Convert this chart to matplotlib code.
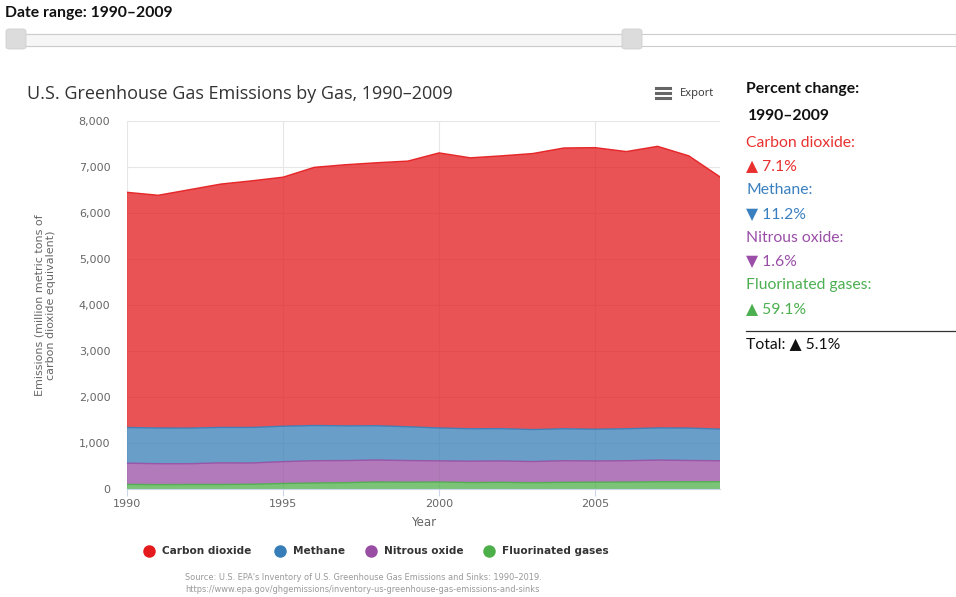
import numpy as np
import matplotlib.pyplot as plt
from matplotlib.patches import FancyBboxPatch, Rectangle
from matplotlib.lines import Line2D

# U.S. greenhouse gas emissions, million metric tons CO2 equivalent
years = np.arange(1990, 2010)
co2 = [5113, 5060, 5183, 5291, 5362, 5414, 5613, 5677, 5718, 5776,
       5980, 5890, 5931, 6001, 6104, 6121, 6026, 6122, 5918, 5484]
methane = [775, 776, 774, 770, 772, 770, 765, 755, 745, 735,
           715, 705, 702, 695, 695, 690, 695, 700, 705, 688]
nitrous = [462, 455, 452, 470, 462, 475, 485, 480, 478, 470,
           460, 465, 465, 460, 470, 462, 465, 470, 462, 455]
fgases = [100, 95, 98, 98, 104, 120, 130, 138, 152, 148,
          152, 140, 145, 137, 145, 148, 150, 158, 158, 159]

gas_names = ['Carbon dioxide', 'Methane', 'Nitrous oxide', 'Fluorinated gases']
gas_colors = ['#e41a1c', '#377eb8', '#984ea3', '#4daf4a']
pct_labels = ['▲ 7.1%', '▼ 11.2%', '▼ 1.6%', '▲ 59.1%']
total_label = 'Total: ▲ 5.1%'

W, H = 956, 597
fig = plt.figure(figsize=(W / 100, H / 100), dpi=100)
fig.patch.set_facecolor('white')

SANS = ['Lato', 'DejaVu Sans']
CHART = ['DejaVu Sans']


def fx(x):
    return x / W


def fy(y):
    return 1 - y / H


def ftext(x, y, s, **kw):
    kw.setdefault('va', 'center')
    kw.setdefault('ha', 'left')
    fig.text(fx(x), fy(y), s, **kw)


# date range slider on top
ftext(5, 13, 'Date range: 1990–2009', fontsize=11.3, fontweight='bold',
      color='#111111', family=SANS)
fig.patches.append(Rectangle((fx(16), fy(46)), fx(940), 12 / H,
                             transform=fig.transFigure, facecolor='white',
                             edgecolor='#cccccc', lw=0.8))
fig.patches.append(Rectangle((fx(16), fy(46)), fx(616), 12 / H,
                             transform=fig.transFigure, facecolor='#f6f6f6',
                             edgecolor='#cccccc', lw=0.8))
for hx in (5, 621):
    fig.patches.append(FancyBboxPatch((fx(hx + 1), fy(49)), fx(20), 20 / H,
                                      boxstyle='round,pad=0,rounding_size=0.004',
                                      transform=fig.transFigure,
                                      facecolor='#dcdcdc', edgecolor='#d0d0d0', lw=0.6))

# chart area
ax = fig.add_axes([fx(127), fy(489), fx(593), (489 - 121) / H])
stack = [fgases, nitrous, methane, co2]
stack_colors = gas_colors[::-1]
ax.stackplot(years, *stack, colors=stack_colors, alpha=0.75, lw=0, zorder=2)
tops = np.cumsum(np.array(stack), axis=0)
for top, c in zip(tops, stack_colors):
    ax.plot(years, top, color=c, lw=1.0, alpha=0.9, zorder=3)

ax.set_xlim(1990, 2009)
ax.set_ylim(0, 8000)
ax.set_yticks(np.arange(0, 8001, 1000))
ax.set_yticklabels([f'{v:,}' for v in range(0, 8001, 1000)])
ax.set_xticks([1990, 1995, 2000, 2005])
ax.set_axisbelow(True)
ax.grid(True, color='#e6e6e6', lw=0.8, zorder=0)
for sp in ('top', 'right', 'left'):
    ax.spines[sp].set_visible(False)
ax.spines['bottom'].set_color('#ccd6eb')
ax.tick_params(axis='y', length=0, labelsize=8, labelcolor='#666666', pad=12)
ax.tick_params(axis='x', length=5, color='#ccd6eb', labelsize=8,
               labelcolor='#666666', pad=2)
for lab in ax.get_xticklabels() + ax.get_yticklabels():
    lab.set_family(CHART)
ax.set_xlabel('Year', fontsize=8.5, color='#666666', family=CHART, labelpad=5)
ax.set_ylabel('Emissions (million metric tons of\ncarbon dioxide equivalent)',
              fontsize=8, color='#666666', family=CHART, labelpad=16,
              linespacing=1.2)

ftext(27, 94, 'U.S. Greenhouse Gas Emissions by Gas, 1990–2009', fontsize=13,
      color='#333333', family=['Open Sans', 'DejaVu Sans'])

# export button
for dy in (-5, 0, 5):
    fig.lines.append(Line2D([fx(656), fx(670)], [fy(93 + dy), fy(93 + dy)],
                            transform=fig.transFigure, color='#666666', lw=2.2))
ftext(680, 94, 'Export', fontsize=8, color='#333333', family=['Open Sans', 'DejaVu Sans'])

# legend
leg_x = [149, 280, 371, 489]
for x, name, c in zip(leg_x, gas_names, gas_colors):
    fig.lines.append(Line2D([fx(x)], [fy(551)], transform=fig.transFigure,
                            marker='o', markersize=9, color=c, mec='none', lw=0))
    ftext(x + 13, 551, name, fontsize=7.6, fontweight='bold', color='#333333',
          family=CHART)

ftext(185, 578, 'Source: U.S. EPA\'s Inventory of U.S. Greenhouse Gas Emissions and Sinks: 1990–2019.',
      fontsize=5.95, color='#999999', family=CHART)
ftext(185, 590, 'https://www.epa.gov/ghgemissions/inventory-us-greenhouse-gas-emissions-and-sinks',
      fontsize=5.95, color='#999999', family=CHART)

# percent change panel
ftext(746, 89, 'Percent change:', fontsize=11.3, fontweight='bold', color='#111111', family=SANS)
ftext(748, 116, '1990–2009', fontsize=11.3, fontweight='bold', color='#111111', family=SANS)
side_colors = ['#e8312f', '#3a80c0', '#9a4ea8', '#4caf50']
for i, (name, pct, c) in enumerate(zip(gas_names, pct_labels, side_colors)):
    y0 = 143 + i * 47.5
    ftext(746, y0, name + ':', fontsize=11.3, color=c, family=SANS)
    ftext(746, y0 + 23.5, pct, fontsize=11.3, color=c, family=SANS)
fig.lines.append(Line2D([fx(746), fx(956)], [fy(331), fy(331)],
                        transform=fig.transFigure, color='#333333', lw=0.9))
ftext(746, 344, total_label, fontsize=11.3, color='#111111', family=SANS)

fig.savefig('out.png', dpi=100, facecolor='white')
